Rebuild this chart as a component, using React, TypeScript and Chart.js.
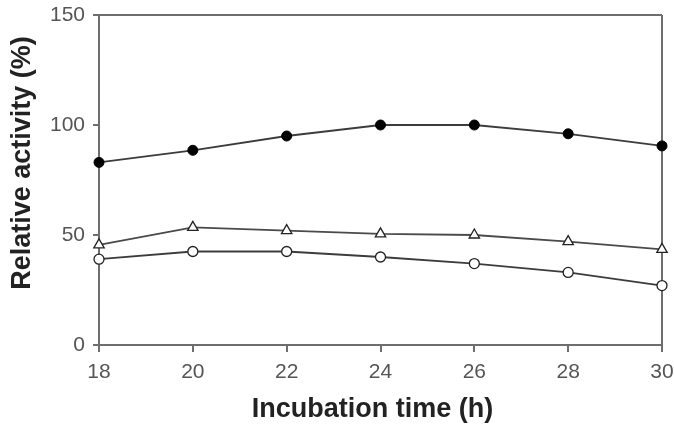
import React, { useEffect, useRef } from "react";
import { Chart, registerables } from "chart.js";

Chart.register(...registerables);

// Incubation time (h) and relative activity (%) for three conditions
const hours = [18, 20, 22, 24, 26, 28, 30];
const activityFilled = [83, 88.5, 95, 100, 100, 96, 90.5];
const activityTriangle = [45.5, 53.5, 52, 50.5, 50, 47, 43.5];
const activityCircle = [39, 42.5, 42.5, 40, 37, 33, 27];

const yTicks = [0, 50, 100, 150];
const xTitle = "Incubation time (h)";
const yTitle = "Relative activity (%)";

const AXIS = "#6e6e6e";
const LINE = "#3c3c3c";
const FONT = '"Liberation Sans", Arial, sans-serif';

// Axis titles drawn at fixed spots beside the plot box
const titlePlugin = {
  id: "axisTitles",
  afterDraw(chart: any) {
    const { ctx } = chart;
    ctx.save();
    ctx.fillStyle = "#222";
    ctx.font = `bold 27px ${FONT}`;
    ctx.textAlign = "center";
    ctx.textBaseline = "middle";
    ctx.fillText(xTitle, 372.5, 410);
    ctx.translate(23, 163);
    ctx.rotate(-Math.PI / 2);
    ctx.fillText(yTitle, 0, 0);
    ctx.restore();
  },
};

const noOverhang = (s: any) => {
  s.paddingTop = 0;
  s.paddingBottom = 0;
  s.paddingLeft = 0;
  s.paddingRight = 0;
};

export default function App() {
  const ref = useRef<HTMLCanvasElement>(null);

  useEffect(() => {
    if (!ref.current) return;
    const point = (arr: number[]) => arr.map((v, i) => ({ x: hours[i], y: v }));
    const chart = new Chart(ref.current, {
      type: "line",
      data: {
        datasets: [
          {
            data: point(activityFilled),
            borderColor: LINE,
            borderWidth: 1.8,
            pointStyle: "circle",
            pointRadius: 5,
            pointBackgroundColor: "#000",
            pointBorderColor: "#000",
            pointBorderWidth: 1,
            clip: false,
          },
          {
            data: point(activityTriangle),
            borderColor: "#4a4a4a",
            borderWidth: 1.8,
            pointStyle: "triangle",
            pointRadius: 6,
            pointBackgroundColor: "#fff",
            pointBorderColor: "#222",
            pointBorderWidth: 1.3,
            clip: false,
          },
          {
            data: point(activityCircle),
            borderColor: LINE,
            borderWidth: 1.8,
            pointStyle: "circle",
            pointRadius: 5,
            pointBackgroundColor: "#fff",
            pointBorderColor: "#222",
            pointBorderWidth: 1.3,
            clip: false,
          },
        ] as any,
      },
      options: {
        responsive: false,
        animation: false,
        layout: { padding: { top: 15, right: 12, left: 0, bottom: 0 } },
        plugins: { legend: { display: false }, tooltip: { enabled: false } },
        scales: {
          x: {
            type: "linear",
            min: hours[0],
            max: hours[hours.length - 1],
            afterBuildTicks: (s: any) => {
              s.ticks = hours.map((v) => ({ value: v }));
            },
            afterFit: (s: any) => {
              s.height = 81;
              noOverhang(s);
            },
            ticks: {
              color: "#555",
              font: { family: FONT, size: 21 },
              padding: 8,
              maxRotation: 0,
            },
            grid: {
              drawOnChartArea: true,
              color: (c: any) =>
                c.tick && c.tick.value === hours[hours.length - 1] ? AXIS : "rgba(0,0,0,0)",
              tickColor: AXIS,
              tickLength: 7,
              lineWidth: 2,
            },
            border: { color: AXIS, width: 2 },
          },
          y: {
            type: "linear",
            min: yTicks[0],
            max: yTicks[yTicks.length - 1],
            afterBuildTicks: (s: any) => {
              s.ticks = yTicks.map((v) => ({ value: v }));
            },
            afterFit: (s: any) => {
              s.width = 99;
              noOverhang(s);
            },
            ticks: {
              color: "#555",
              font: { family: FONT, size: 21 },
              padding: 8,
            },
            grid: {
              drawOnChartArea: true,
              color: (c: any) =>
                c.tick && c.tick.value === yTicks[yTicks.length - 1] ? AXIS : "rgba(0,0,0,0)",
              tickColor: AXIS,
              tickLength: 6,
              lineWidth: 2,
            },
            border: { color: AXIS, width: 2 },
          },
        },
      } as any,
      plugins: [titlePlugin],
    });
    return () => chart.destroy();
  }, []);

  return (
    <div style={{ position: "fixed", left: 0, top: 0, width: 674, height: 426, background: "#fff" }}>
      <canvas ref={ref} width={674} height={426} />
    </div>
  );
}
